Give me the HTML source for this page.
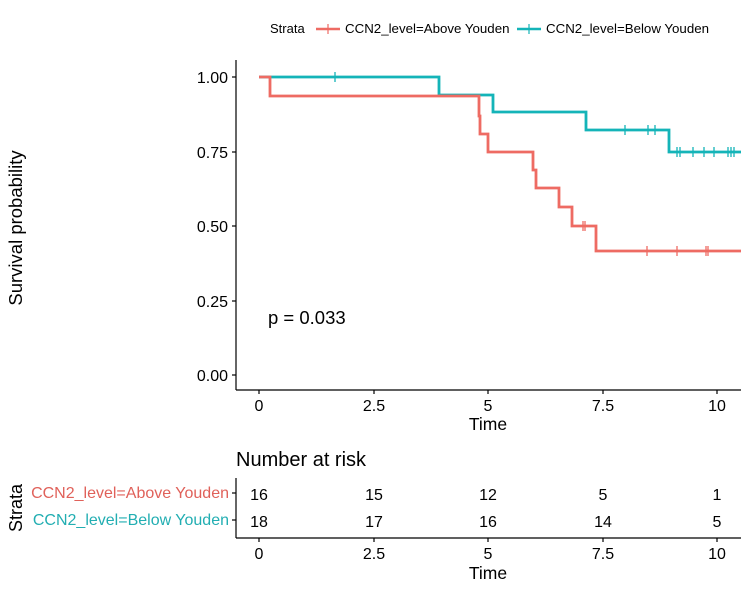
<!DOCTYPE html>
<html><head><meta charset="utf-8"><style>body{margin:0;background:#fff}svg{display:block;font-family:"Liberation Sans",sans-serif}</style></head><body>
<svg width="750" height="589" viewBox="0 0 750 589">
<text x="270" y="33" font-size="13">Strata</text>
<line x1="316" y1="29" x2="340" y2="29" stroke="#EE6B63" stroke-width="2.5"/><line x1="328" y1="24" x2="328" y2="34" stroke="#EE6B63" stroke-width="1.2"/>
<text x="345" y="33" font-size="13.3">CCN2_level=Above Youden</text>
<line x1="517" y1="29" x2="541" y2="29" stroke="#14B4B8" stroke-width="2.5"/><line x1="529" y1="24" x2="529" y2="34" stroke="#14B4B8" stroke-width="1.2"/>
<text x="546" y="33" font-size="13.3">CCN2_level=Below Youden</text>
<g stroke="#000" stroke-width="1.2" fill="none">
<line x1="236" y1="60" x2="236" y2="390"/><line x1="236" y1="390" x2="741" y2="390"/>
<line x1="232" y1="77" x2="236" y2="77"/><line x1="232" y1="152" x2="236" y2="152"/><line x1="232" y1="226" x2="236" y2="226"/><line x1="232" y1="301" x2="236" y2="301"/><line x1="232" y1="375" x2="236" y2="375"/>
<line x1="259" y1="390" x2="259" y2="394"/><line x1="374" y1="390" x2="374" y2="394"/><line x1="488" y1="390" x2="488" y2="394"/><line x1="603" y1="390" x2="603" y2="394"/><line x1="717" y1="390" x2="717" y2="394"/>
</g>
<g font-size="16" text-anchor="end"><text x="228" y="83">1.00</text><text x="228" y="158">0.75</text><text x="228" y="232">0.50</text><text x="228" y="307">0.25</text><text x="228" y="381">0.00</text></g>
<g font-size="16" text-anchor="middle"><text x="259" y="411">0</text><text x="374" y="411">2.5</text><text x="488" y="411">5</text><text x="603" y="411">7.5</text><text x="717" y="411">10</text></g>
<text x="488" y="430" font-size="17.5" text-anchor="middle">Time</text>
<text transform="translate(22,228) rotate(-90)" font-size="18.5" text-anchor="middle">Survival probability</text>
<text x="268" y="324" font-size="18.5">p = 0.033</text>
<polyline fill="none" stroke="#14B4B8" stroke-width="2.8" points="259,77 439,77 439,95 493,95 493,112 586,112 586,130 669,130 669,152 741,152"/>
<polyline fill="none" stroke="#EE6B63" stroke-width="2.8" points="259,77 270,77 270,96 479,96 479,116 480,116 480,134 488,134 488,152 533,152 533,170 536,170 536,188 559,188 559,207 572,207 572,226 596,226 596,251 741,251"/>
<g stroke="#14B4B8" stroke-width="1.3">
<line x1="335" y1="72" x2="335" y2="82"/>
<line x1="625" y1="125" x2="625" y2="135"/><line x1="648" y1="125" x2="648" y2="135"/><line x1="655" y1="125" x2="655" y2="135"/>
<line x1="677" y1="147" x2="677" y2="157"/><line x1="680" y1="147" x2="680" y2="157"/><line x1="693" y1="147" x2="693" y2="157"/><line x1="704" y1="147" x2="704" y2="157"/><line x1="714" y1="147" x2="714" y2="157"/><line x1="728" y1="147" x2="728" y2="157"/><line x1="731" y1="147" x2="731" y2="157"/><line x1="734" y1="147" x2="734" y2="157"/>
</g>
<g stroke="#EE6B63" stroke-width="1.3">
<line x1="583" y1="221" x2="583" y2="231"/><line x1="585" y1="221" x2="585" y2="231"/>
<line x1="647" y1="246" x2="647" y2="256"/><line x1="677" y1="246" x2="677" y2="256"/><line x1="706" y1="246" x2="706" y2="256"/><line x1="708" y1="246" x2="708" y2="256"/>
</g>
<text x="236" y="466" font-size="20">Number at risk</text>
<g stroke="#000" stroke-width="1.2">
<line x1="236" y1="478" x2="236" y2="538"/><line x1="236" y1="538" x2="741" y2="538"/>
<line x1="232" y1="493" x2="236" y2="493"/><line x1="232" y1="520" x2="236" y2="520"/>
<line x1="259" y1="538" x2="259" y2="542"/><line x1="374" y1="538" x2="374" y2="542"/><line x1="488" y1="538" x2="488" y2="542"/><line x1="603" y1="538" x2="603" y2="542"/><line x1="717" y1="538" x2="717" y2="542"/>
</g>
<g font-size="16" text-anchor="end"><text x="229" y="498" fill="#E0615A">CCN2_level=Above Youden</text><text x="229" y="525" fill="#22AEB2">CCN2_level=Below Youden</text></g>
<g font-size="16" text-anchor="middle">
<text x="259" y="500">16</text><text x="374" y="500">15</text><text x="488" y="500">12</text><text x="603" y="500">5</text><text x="717" y="500">1</text>
<text x="259" y="527">18</text><text x="374" y="527">17</text><text x="488" y="527">16</text><text x="603" y="527">14</text><text x="717" y="527">5</text>
</g>
<g font-size="16" text-anchor="middle"><text x="259" y="559">0</text><text x="374" y="559">2.5</text><text x="488" y="559">5</text><text x="603" y="559">7.5</text><text x="717" y="559">10</text></g>
<text x="488" y="579" font-size="17.5" text-anchor="middle">Time</text>
<text transform="translate(22,508) rotate(-90)" font-size="18" text-anchor="middle">Strata</text>
</svg>
</body></html>
